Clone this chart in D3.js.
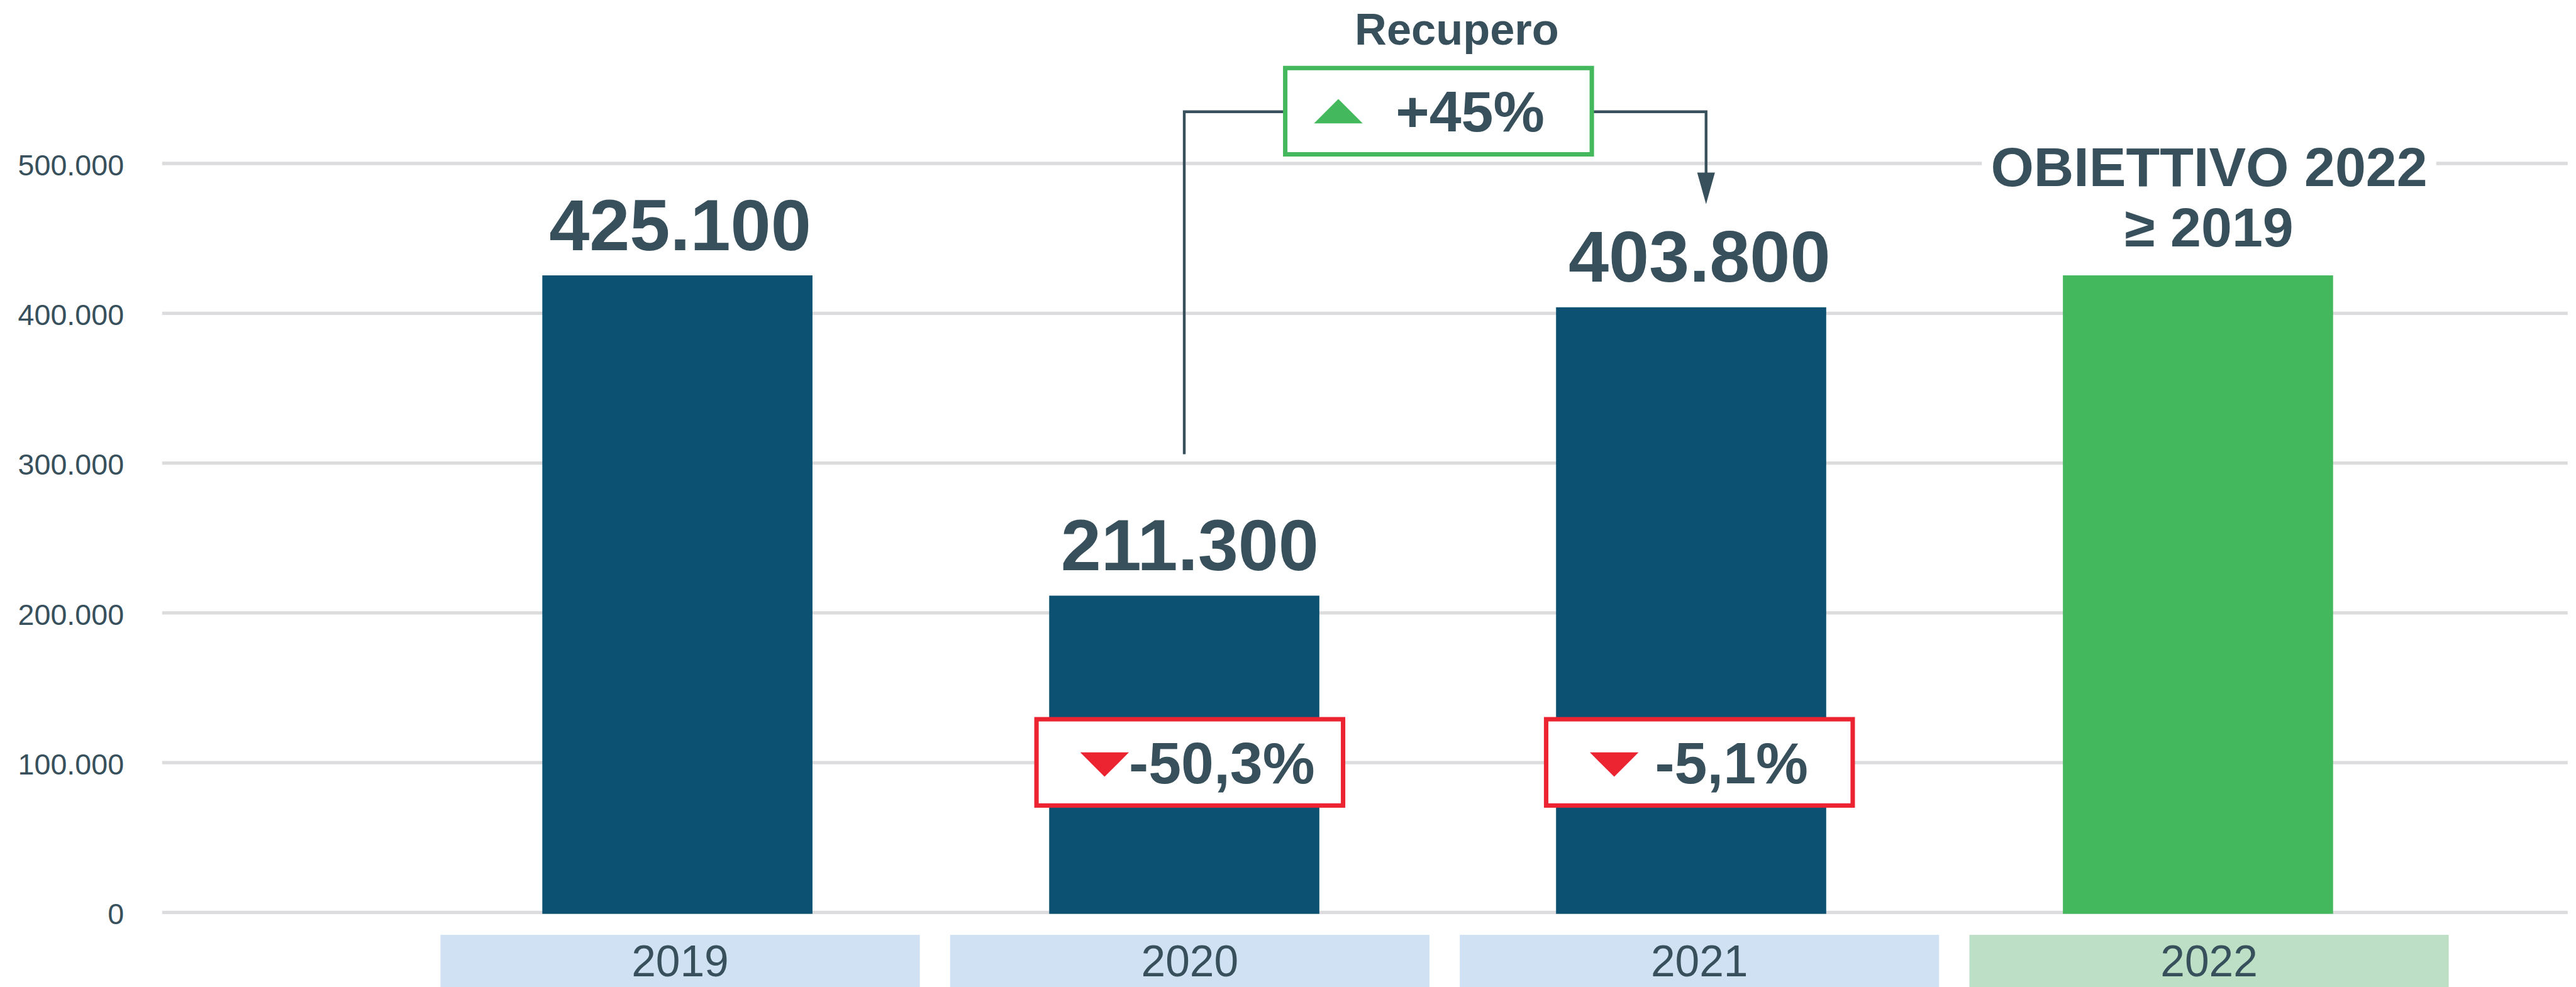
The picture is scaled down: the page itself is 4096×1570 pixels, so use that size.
<!DOCTYPE html>
<html>
<head>
<meta charset="utf-8">
<script src="https://cdn.jsdelivr.net/npm/d3@7"></script>
<style>
  html, body { margin: 0; padding: 0; background: #fff; }
  svg { display: block; }
</style>
</head>
<body>
<div id="chart"></div>
<script>
// Data
const years = ['2019', '2020', '2021', '2022'];
const values = [425100, 211300, 403800, 425100];
const valueLabels = ['425.100', '211.300', '403.800', null];
const yTicks = [0, 100000, 200000, 300000, 400000, 500000];
const changeYears = ['2020', '2021'];
const changeLabels = ['-50,3%', '-5,1%'];
const recoveryTitle = 'Recupero';
const recoveryLabel = '+45%';
const targetLines = ['OBIETTIVO 2022', '\u2265 2019'];

const C = {
  text: '#37505c',
  blue: '#0c5172',
  green: '#44b85c',
  red: '#ec2330',
  grid: '#dcdcde',
  boxBlue: '#cfe1f2',
  boxGreen: '#bcdfc5'
};
const FONT = '"Liberation Sans", Arial, Helvetica, sans-serif';

// drawn in reference pixels, then scaled to the window
const W = 4655;
const k = 4096 / W;

const svg = d3.select('#chart').append('svg')
  .attr('width', 4096)
  .attr('height', 1570)
  .attr('font-family', FONT);

const g = svg.append('g').attr('transform', `scale(${k})`);

const y = d3.scaleLinear().domain([0, 500000]).range([1649, 295]);
const x = d3.scaleBand().domain(years).range([796, 4425]).paddingInner(0.0595);
const xBar = d3.scaleBand().domain(years).range([980, 4216]).paddingInner(0.467);

const fmt = d3.formatLocale({ decimal: ',', thousands: '.', grouping: [3], currency: ['', ''] }).format(',');

// Gridlines + y labels
g.append('g')
  .attr('transform', 'translate(4640,0)')
  .call(d3.axisLeft(y).tickValues(yTicks).tickSize(4347).tickPadding(69).tickFormat(fmt))
  .call(a => a.select('.domain').remove())
  .call(a => {
    a.attr('font-family', FONT).attr('font-size', 53);
    a.selectAll('line').attr('stroke', C.grid).attr('stroke-width', 6);
    a.selectAll('text').attr('fill', C.text).attr('dy', '0.4em');
  });

// Bars
g.selectAll('.bar').data(years).join('rect')
  .attr('class', 'bar')
  .attr('x', d => xBar(d))
  .attr('y', (d, i) => y(values[i]))
  .attr('width', xBar.bandwidth())
  .attr('height', (d, i) => y(0) - y(values[i]) + 3)
  .attr('fill', d => d === '2022' ? C.green : C.blue);

// Category boxes
g.selectAll('.cat').data(years).join('rect')
  .attr('class', 'cat')
  .attr('x', d => x(d))
  .attr('y', 1690)
  .attr('width', x.bandwidth())
  .attr('height', 140)
  .attr('fill', d => d === '2022' ? C.boxGreen : C.boxBlue);

g.selectAll('.cat-label').data(years).join('text')
  .attr('class', 'cat-label')
  .attr('x', d => x(d) + x.bandwidth() / 2)
  .attr('y', 1765)
  .attr('text-anchor', 'middle')
  .attr('font-size', 79)
  .attr('fill', C.text)
  .text(d => d);

// Value labels
years.forEach((d, i) => {
  if (!valueLabels[i]) return;
  g.append('text')
    .attr('x', x(d) + x.bandwidth() / 2)
    .attr('y', y(values[i]) - 46)
    .attr('text-anchor', 'middle')
    .attr('font-size', 131)
    .attr('font-weight', 700)
    .attr('fill', C.text)
    .text(valueLabels[i]);
});

// Target label on 2022
const tx = x('2022') + x.bandwidth() / 2;
const tBase = y(values[3]) - 52;
const tg = g.append('g');
const bg = tg.append('rect').attr('fill', '#fff');
const t1 = tg.append('text')
  .attr('x', tx).attr('y', tBase - 109)
  .attr('text-anchor', 'middle')
  .attr('font-size', 100).attr('font-weight', 700)
  .attr('fill', C.text)
  .text(targetLines[0]);
tg.append('text')
  .attr('x', tx).attr('y', tBase)
  .attr('text-anchor', 'middle')
  .attr('font-size', 100).attr('font-weight', 700)
  .attr('fill', C.text)
  .text(targetLines[1]);
const bb = t1.node().getBBox();
bg.attr('x', bb.x - 16).attr('y', bb.y).attr('width', bb.width + 32).attr('height', bb.height);

// Change boxes (red)
changeYears.forEach((d, i) => {
  const cx = x(d) + x.bandwidth() / 2;
  const cy = y(100000);
  g.append('rect')
    .attr('x', cx - 277).attr('y', cy - 78)
    .attr('width', 554).attr('height', 156)
    .attr('fill', '#fff')
    .attr('stroke', C.red).attr('stroke-width', 8);
  g.append('path')
    .attr('d', `M${cx - 198},${cy - 18}L${cx - 110},${cy - 18}L${cx - 154},${cy + 26}Z`)
    .attr('fill', C.red);
  g.append('text')
    .attr('x', cx + 58).attr('y', cy + 38)
    .attr('text-anchor', 'middle')
    .attr('font-size', 106).attr('font-weight', 700)
    .attr('fill', C.text)
    .text(changeLabels[i]);
});

// Recovery connector
const leftX = xBar('2020') + xBar.bandwidth() / 2;
const rightX = x('2021') + x.bandwidth() / 2 + 12;
const bcx = (leftX + rightX) / 2 - 12;
const bcy = 201;
const lineY = 202;

g.append('path')
  .attr('d', `M${leftX},821V${lineY}H${bcx - 280}`)
  .attr('fill', 'none').attr('stroke', C.text).attr('stroke-width', 5);
g.append('path')
  .attr('d', `M${bcx + 280},${lineY}H${rightX}V316`)
  .attr('fill', 'none').attr('stroke', C.text).attr('stroke-width', 5);
g.append('path')
  .attr('d', `M${rightX - 16},312L${rightX + 16},312L${rightX},369Z`)
  .attr('fill', C.text);

g.append('rect')
  .attr('x', bcx - 277).attr('y', bcy - 78)
  .attr('width', 554).attr('height', 156)
  .attr('fill', '#fff')
  .attr('stroke', C.green).attr('stroke-width', 8);
g.append('path')
  .attr('d', `M${bcx - 225},${bcy + 22}L${bcx - 137},${bcy + 22}L${bcx - 181},${bcy - 22}Z`)
  .attr('fill', C.green);
g.append('text')
  .attr('x', bcx + 57).attr('y', bcy + 37)
  .attr('text-anchor', 'middle')
  .attr('font-size', 104).attr('font-weight', 700)
  .attr('fill', C.text)
  .text(recoveryLabel);
g.append('text')
  .attr('x', bcx + 33).attr('y', 81)
  .attr('text-anchor', 'middle')
  .attr('font-size', 80).attr('font-weight', 700)
  .attr('fill', C.text)
  .text(recoveryTitle);
</script>
</body>
</html>
